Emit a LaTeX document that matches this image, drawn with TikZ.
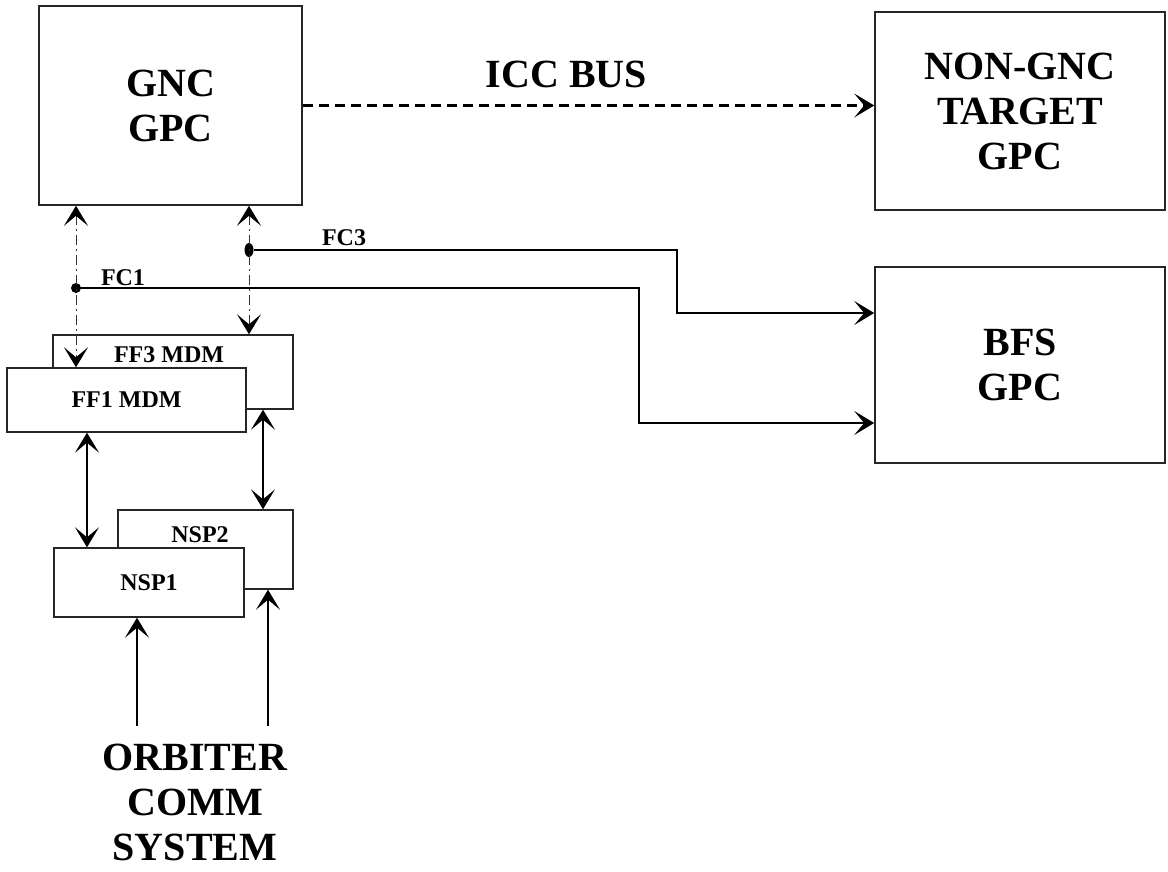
\documentclass[tikz,border=0pt]{standalone}
\usepackage{fontspec}
\setmainfont{Liberation Serif}
\usetikzlibrary{arrows.meta, shapes.geometric}
\newcommand{\gpcfont}{\fontsize{20}{22.5}\selectfont\bfseries}
\newcommand{\tagfont}{\fontsize{12}{13}\selectfont\bfseries}

\begin{document}
\begin{tikzpicture}[
  x=0.5pt, y=-0.5pt,
  headtip/.tip={Stealth[length=10pt, width=12pt, inset=5pt, line width=0.6pt, color=black]},
  gpc/.style={draw=black!85, line width=0.8pt, align=center, font=\gpcfont, inner sep=0pt},
  unit/.style={draw=black!85, line width=0.7pt, fill=white, font=\tagfont, inner sep=0pt},
  tag/.style={font=\tagfont, inner sep=1pt},
  dot/.style={ellipse, fill, inner sep=0pt, minimum width=5pt, minimum height=5pt},
  icc/.style={line width=1.2pt, dash pattern=on 5pt off 3pt},
  bus/.style={line width=1.2pt},
  ctl/.style={draw=black!80, line width=0.5pt, dash pattern=on 5pt off 2pt on 1pt off 2pt},
  link/.style={line width=0.6pt},
]
\useasboundingbox (0,0) rectangle (1168,872);

% GPC boxes
\node[gpc, minimum width=131.5pt, minimum height=99.5pt] (gnc) at (170.5,105.5) {GNC\\GPC};
\node[gpc, minimum width=145pt, minimum height=99pt] (ngnc) at (1020,111) {NON-GNC\\TARGET\\GPC};
\node[gpc, minimum width=145pt, minimum height=98pt] (bfs) at (1020,365) {BFS\\GPC};

% MDMs and NSPs (front box drawn last)
\node[unit, minimum width=120pt, minimum height=37pt] (ff3) at (173,372) {};
\node[tag] (ff3txt) at (169,355) {FF3 MDM};
\node[unit, minimum width=119.5pt, minimum height=32pt] (ff1) at (126.5,400) {FF1 MDM};
\node[unit, minimum width=87.5pt, minimum height=39.5pt] (nsp2) at (205.5,549.5) {};
\node[tag] (nsp2txt) at (200,535) {NSP2};
\node[unit, minimum width=95pt, minimum height=34.5pt] (nsp1) at (149,582.5) {NSP1};

\node[font=\gpcfont, align=center, inner sep=0pt] (orb) at (195,802) {ORBITER\\COMM\\SYSTEM};

% junctions
\node[dot] (fc1dot) at (76,288) {};
\node[dot, minimum width=4.5pt, minimum height=7pt] (fc3dot) at (249,250) {};

% ICC bus
\draw[icc, -headtip] (gnc.east) -- (gnc.east -| ngnc.west) node[midway, above=5pt, xshift=-11pt, font=\gpcfont] (icclbl) {ICC BUS};

% flight critical buses
\coordinate (fc3bend) at (677,313);
\coordinate (fc1bend) at (639,423);
\draw[bus, -headtip] (fc3dot) -| (fc3bend) -- (fc3bend -| bfs.west);
\draw[bus, -headtip] (fc1dot) -| (fc1bend) -- (fc1bend -| bfs.west);
\node[tag] (fc3lbl) at (344,238) {FC3};
\node[tag] (fc1lbl) at (123,278) {FC1};

% GPC to MDM
\draw[ctl, headtip-headtip] (fc1dot |- gnc.south) -- (fc1dot |- ff1.north);
\draw[ctl, headtip-headtip] (fc3dot |- gnc.south) -- (fc3dot |- ff3.north);

% MDM to NSP, comm to NSP
\draw[link, headtip-headtip] (ff1.south -| 87,0) -- (nsp1.north -| 87,0);
\draw[link, headtip-headtip] (ff3.south -| 263,0) -- (nsp2.north -| 263,0);
\coordinate (orb1) at (137,726);
\coordinate (orb2) at (268,726);
\draw[link, -headtip] (orb1) -- (orb1 |- nsp1.south);
\draw[link, -headtip] (orb2) -- (orb2 |- nsp2.south);
\end{tikzpicture}
\end{document}
